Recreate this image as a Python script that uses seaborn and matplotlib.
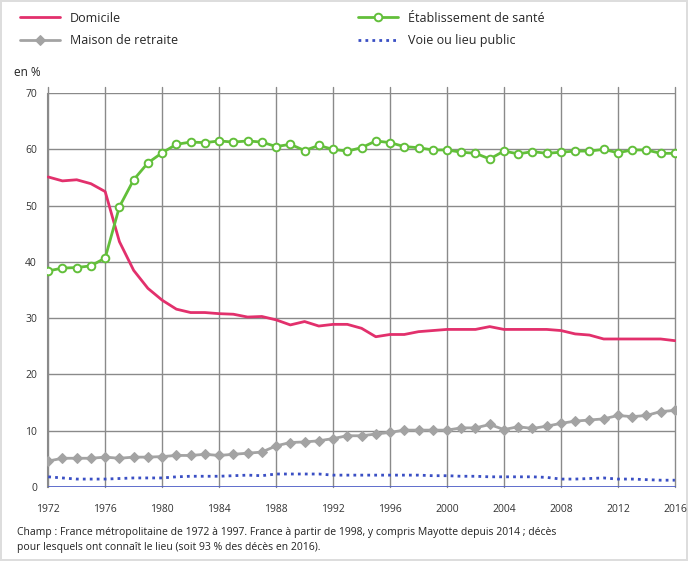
import matplotlib
matplotlib.use("Agg")
import matplotlib.pyplot as plt
import seaborn as sns
import pandas as pd

years = list(range(1972, 2017))

domicile = [55.1, 54.4, 54.6, 53.9, 52.5, 43.6, 38.5, 35.3, 33.2, 31.6,
            31.0, 31.0, 30.8, 30.7, 30.2, 30.3, 29.7, 28.8, 29.4, 28.6,
            28.9, 28.9, 28.2, 26.7, 27.1, 27.1, 27.6, 27.8, 28.0, 28.0,
            28.0, 28.5, 28.0, 28.0, 28.0, 28.0, 27.8, 27.2, 27.0, 26.3,
            26.3, 26.3, 26.3, 26.3, 26.0]

etab_sante = [38.4, 38.9, 39.0, 39.3, 40.7, 49.8, 54.6, 57.6, 59.4, 60.9,
              61.3, 61.2, 61.5, 61.3, 61.5, 61.3, 60.5, 60.9, 59.8, 60.7,
              60.0, 59.7, 60.3, 61.5, 61.2, 60.5, 60.3, 59.9, 59.9, 59.5,
              59.3, 58.3, 59.7, 59.2, 59.6, 59.3, 59.5, 59.7, 59.7, 60.0,
              59.4, 59.9, 59.9, 59.3, 59.3]

maison_retraite = [4.6, 5.1, 5.1, 5.1, 5.3, 5.1, 5.3, 5.3, 5.4, 5.6,
                   5.6, 5.8, 5.6, 5.8, 6.0, 6.2, 7.3, 7.9, 8.0, 8.2,
                   8.6, 9.1, 9.1, 9.4, 9.7, 10.1, 10.1, 10.1, 10.1, 10.5,
                   10.5, 11.1, 10.2, 10.7, 10.4, 10.8, 11.3, 11.7, 11.9, 12.1,
                   12.7, 12.5, 12.7, 13.4, 13.6]

voie_public = [1.8, 1.6, 1.4, 1.4, 1.4, 1.5, 1.6, 1.6, 1.6, 1.8,
               1.9, 1.9, 1.9, 2.0, 2.1, 2.0, 2.3, 2.3, 2.3, 2.3,
               2.1, 2.1, 2.1, 2.1, 2.1, 2.1, 2.1, 2.0, 2.0, 1.9,
               1.9, 1.8, 1.8, 1.8, 1.8, 1.7, 1.4, 1.4, 1.5, 1.6,
               1.4, 1.4, 1.3, 1.2, 1.2]

x_ticks = list(range(1972, 2017, 4))
y_ticks = [0, 10, 20, 30, 40, 50, 60, 70]

caption = ("Champ : France métropolitaine de 1972 à 1997. France à partir de 1998, "
           "y compris Mayotte depuis 2014 ; décès\n"
           "pour lesquels ont connaît le lieu (soit 93 % des décès en 2016).")

df = pd.DataFrame({
    "annee": years,
    "Domicile": domicile,
    "Établissement de santé": etab_sante,
    "Maison de retraite": maison_retraite,
    "Voie ou lieu public": voie_public,
})

sns.set_style("white")
plt.rcParams["font.family"] = ["Open Sans", "DejaVu Sans"]

fig = plt.figure(figsize=(6.88, 5.61), dpi=100)
ax = fig.add_axes([0.068, 0.132, 0.915, 0.702])

grid_c = "#8a8a8a"
for xv in x_ticks:
    ax.axvline(xv, ymax=1.015, color=grid_c, lw=1.0, zorder=0, clip_on=False)
for yv in y_ticks[1:]:
    ax.axhline(yv, color=grid_c, lw=1.0, zorder=0)

pink = "#e2306c"
green = "#62bf3a"
grey = "#a3a3a3"
blue = "#3a4fc4"

sns.lineplot(data=df, x="annee", y="Domicile", ax=ax, color=pink, lw=2,
             label="Domicile", zorder=3)
sns.lineplot(data=df, x="annee", y="Maison de retraite", ax=ax, color=grey, lw=2,
             marker="D", markersize=5.5, markeredgecolor=grey,
             label="Maison de retraite", zorder=3)
sns.lineplot(data=df, x="annee", y="Établissement de santé", ax=ax, color=green, lw=2,
             marker="o", markersize=5.5, markerfacecolor="white",
             markeredgecolor=green, markeredgewidth=1.4,
             label="Établissement de santé", zorder=4)
sns.lineplot(data=df, x="annee", y="Voie ou lieu public", ax=ax, color=blue, lw=2,
             linestyle=(0, (1, 1.5)), label="Voie ou lieu public", zorder=3)

ax.axhline(0, color="#5060c8", lw=2, zorder=2)

ax.set_xlim(1971.9, 2016.1)
ax.set_ylim(0, 70)
ax.set_xticks(x_ticks)
ax.set_yticks(y_ticks)
ax.set_xlabel("")
ax.set_ylabel("")
ax.tick_params(axis="both", labelsize=7.5, colors="#333333", length=4, width=1,
               color=grid_c, pad=3)
ax.tick_params(axis="x", length=0, pad=12)
for s in ["top", "right", "bottom"]:
    ax.spines[s].set_visible(False)
ax.spines["left"].set_color(grid_c)

handles, labels = ax.get_legend_handles_labels()
ax.get_legend().remove()
fig.legend(handles, labels,
           ncol=2, loc="upper left", bbox_to_anchor=(0.012, 0.999),
           frameon=False, fontsize=9, handlelength=3.2, columnspacing=14.4,
           handletextpad=0.8, labelspacing=0.75)

fig.text(0.02, 0.865, "en %", fontsize=8.5, color="#222222")
fig.text(0.025, 0.037, caption, fontsize=7.5, color="#222222", va="center",
         linespacing=1.55)

fig.patch.set_edgecolor("#dddddd")
fig.patch.set_linewidth(1.5)

fig.savefig("out.png", dpi=100, edgecolor=fig.get_edgecolor())
